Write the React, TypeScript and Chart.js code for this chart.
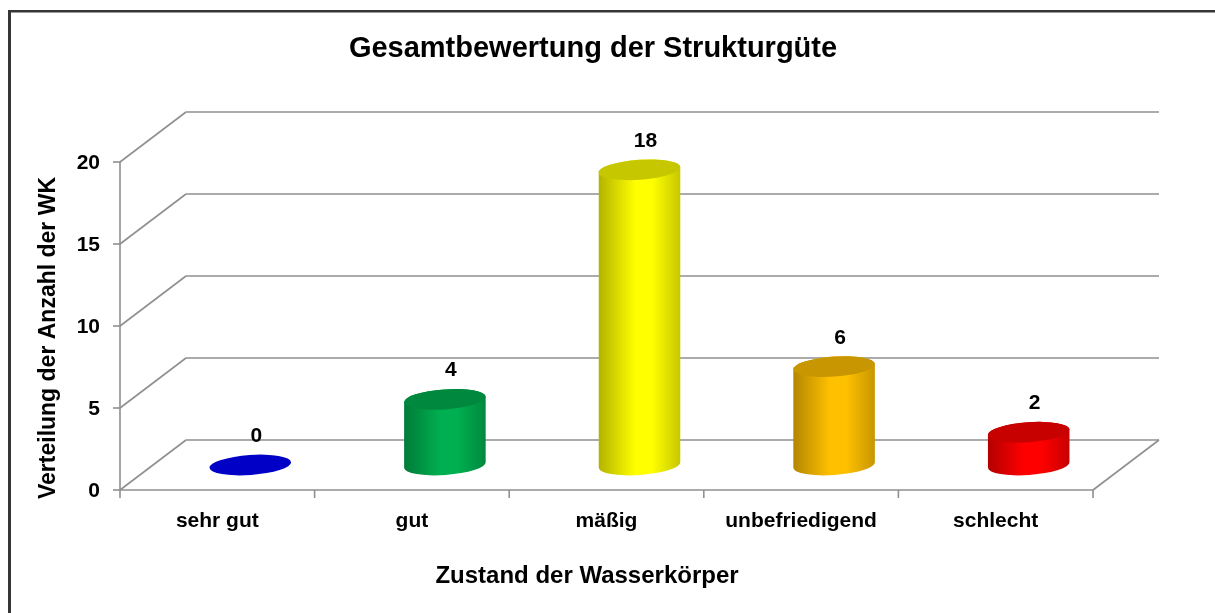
import React, { useEffect, useRef } from "react";
import { Chart, registerables } from "chart.js";

Chart.register(...registerables);

const TITLE = "Gesamtbewertung der Strukturgüte";
const X_TITLE = "Zustand der Wasserkörper";
const Y_TITLE = "Verteilung der Anzahl der WK";
const CATEGORIES = ["sehr gut", "gut", "mäßig", "unbefriedigend", "schlecht"];
const VALUES = [0, 4, 18, 6, 2];
const BAR_COLORS = ["#0000FF", "#00B050", "#FFFF00", "#FFC000", "#FF0000"];
const Y_TICKS = [0, 5, 10, 15, 20];

const FONT = "'Liberation Sans', Arial, sans-serif";
const DX = 66;
const DY = 50;
const GRID = "#8f8f8f";

function shade(hex: string, f: number): string {
  const n = parseInt(hex.slice(1), 16);
  const r = Math.round(((n >> 16) & 255) * f);
  const g = Math.round(((n >> 8) & 255) * f);
  const b = Math.round((n & 255) * f);
  return `rgb(${r},${g},${b})`;
}

function line(ctx: CanvasRenderingContext2D, x1: number, y1: number, x2: number, y2: number) {
  ctx.beginPath();
  ctx.moveTo(x1, y1);
  ctx.lineTo(x2, y2);
  ctx.stroke();
}

function drawCylinder(
  ctx: CanvasRenderingContext2D,
  cx: number,
  topY: number,
  baseY: number,
  rx: number,
  ry: number,
  color: string
) {
  const rot = -0.07;
  if (baseY - topY > 0.5) {
    const g = ctx.createLinearGradient(cx - rx, 0, cx + rx, 0);
    g.addColorStop(0, shade(color, 0.7));
    g.addColorStop(0.45, color);
    g.addColorStop(0.65, color);
    g.addColorStop(1, shade(color, 0.78));
    ctx.beginPath();
    ctx.ellipse(cx, baseY, rx, ry, rot, 0, Math.PI, false);
    ctx.ellipse(cx, topY, rx, ry, rot, Math.PI, 2 * Math.PI, false);
    ctx.closePath();
    ctx.fillStyle = g;
    ctx.fill();
  }
  ctx.beginPath();
  ctx.ellipse(cx, topY, rx, ry, rot, 0, 2 * Math.PI);
  ctx.fillStyle = shade(color, 0.78);
  ctx.fill();
}

const threeDPlugin = {
  id: "threeD",
  beforeDatasetsDraw(chart: any) {
    const ctx: CanvasRenderingContext2D = chart.ctx;
    const { left, right } = chart.chartArea;
    const ys = chart.scales.y;
    const xs = chart.scales.x;
    const y0 = ys.getPixelForValue(0);
    const yMax = ys.getPixelForValue(Y_TICKS[Y_TICKS.length - 1]);
    ctx.save();

    // frame
    ctx.fillStyle = "#363636";
    ctx.fillRect(8, 10, 3, chart.height);
    ctx.fillRect(8, 10, chart.width, 2.5);

    // walls & grid
    ctx.strokeStyle = GRID;
    ctx.lineWidth = 1.6;
    Y_TICKS.forEach((v) => {
      const yf = ys.getPixelForValue(v);
      line(ctx, left, yf, left + DX, yf - DY);
      line(ctx, left + DX, yf - DY, right + DX, yf - DY);
      line(ctx, left - 7, yf, left, yf);
    });
    line(ctx, left, yMax, left, y0);
    line(ctx, left, y0, right, y0);
    line(ctx, right, y0, right + DX, y0 - DY);

    // category boundary ticks
    const n = CATEGORIES.length;
    for (let i = 0; i <= n; i++) {
      let bx: number;
      if (i === 0) bx = left;
      else if (i === n) bx = right;
      else bx = (xs.getPixelForValue(i - 1) + xs.getPixelForValue(i)) / 2;
      line(ctx, bx, y0, bx, y0 + 8);
    }

    // y tick labels
    ctx.fillStyle = "#000";
    ctx.font = `bold 21px ${FONT}`;
    ctx.textAlign = "right";
    ctx.textBaseline = "middle";
    Y_TICKS.forEach((v) => {
      ctx.fillText(String(v), left - 20, ys.getPixelForValue(v) + 1);
    });

    // category labels
    ctx.textAlign = "center";
    ctx.textBaseline = "alphabetic";
    CATEGORIES.forEach((c, i) => {
      ctx.fillText(c, xs.getPixelForValue(i), y0 + 37);
    });

    // titles
    ctx.font = `bold 29px ${FONT}`;
    ctx.fillText(TITLE, 593, 57);
    ctx.font = `bold 24px ${FONT}`;
    ctx.fillText(X_TITLE, 587, 583);
    ctx.save();
    ctx.translate(55, 338);
    ctx.rotate(-Math.PI / 2);
    ctx.font = `bold 23px ${FONT}`;
    ctx.fillText(Y_TITLE, 0, 0);
    ctx.restore();

    ctx.restore();
  },
  afterDatasetsDraw(chart: any) {
    const ctx: CanvasRenderingContext2D = chart.ctx;
    const meta = chart.getDatasetMeta(0);
    ctx.save();
    meta.data.forEach((el: any, i: number) => {
      const cx = el.x + DX / 2;
      const topY = el.y - DY / 2;
      const baseY = el.base - DY / 2;
      const rx = el.width / 2;
      drawCylinder(ctx, cx, topY, baseY, rx, 10, BAR_COLORS[i]);
      ctx.fillStyle = "#000";
      ctx.font = `bold 21px ${FONT}`;
      ctx.textAlign = "center";
      ctx.textBaseline = "alphabetic";
      ctx.fillText(String(VALUES[i]), cx + 6, topY - 23);
    });
    ctx.restore();
  },
};

export default function App() {
  const ref = useRef<HTMLCanvasElement | null>(null);
  useEffect(() => {
    if (!ref.current) return;
    const chart = new Chart(ref.current, {
      type: "bar",
      data: {
        labels: CATEGORIES,
        datasets: [
          {
            data: VALUES,
            backgroundColor: "rgba(0,0,0,0)",
            borderWidth: 0,
            categoryPercentage: 1,
            barPercentage: 0.42,
          },
        ],
      },
      options: {
        responsive: false,
        animation: false,
        devicePixelRatio: 1,
        layout: { padding: { left: 120, right: 122, top: 162, bottom: 123 } },
        plugins: { legend: { display: false }, title: { display: false }, tooltip: { enabled: false } },
        scales: {
          x: { display: false },
          y: { display: false, min: 0, max: 20, ticks: { stepSize: 5 } },
        },
      },
      plugins: [threeDPlugin],
    });
    return () => chart.destroy();
  }, []);
  return (
    <div style={{ position: "fixed", left: 0, top: 0, width: 1215, height: 613, overflow: "hidden", background: "#fff" }}>
      <canvas ref={ref} width={1215} height={613} />
    </div>
  );
}
